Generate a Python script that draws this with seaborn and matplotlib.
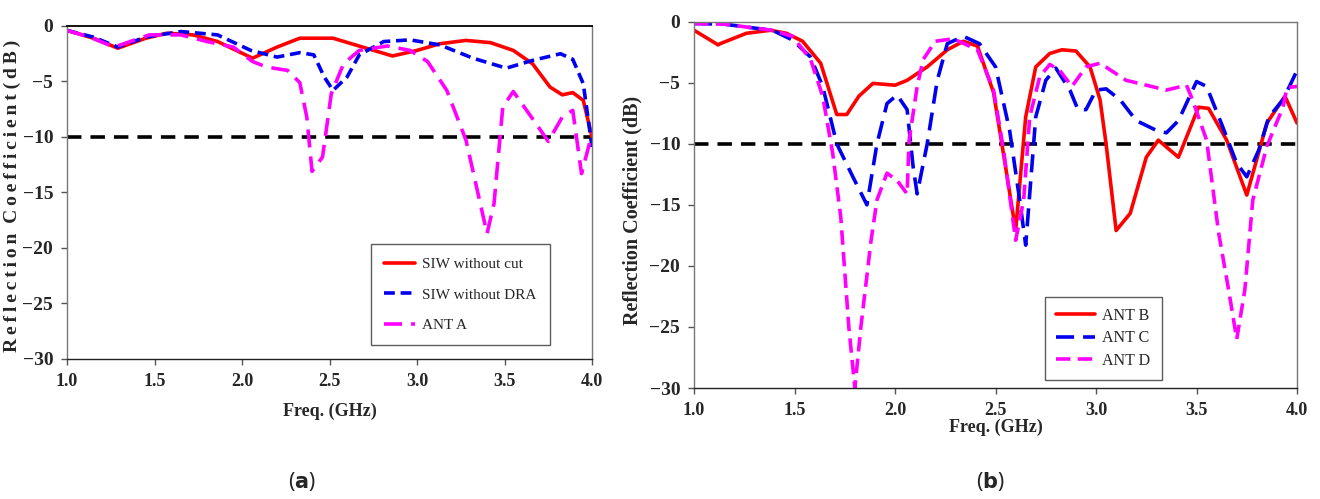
import numpy as np
import pandas as pd
import matplotlib
matplotlib.use("Agg")
import matplotlib.pyplot as plt
import seaborn as sns

# ---- panel (a) data ----
a_red_f = [1.0, 1.15, 1.29, 1.45, 1.57, 1.72, 1.86, 2.06, 2.2, 2.33, 2.52, 2.71, 2.86, 3.0, 3.13,
           3.28, 3.42, 3.55, 3.66, 3.76, 3.83, 3.89, 3.95, 4.0]
a_red_db = [-0.4, -1.1, -2.0, -1.1, -0.65, -0.8, -1.4, -2.9, -1.9, -1.1, -1.1, -2.0, -2.7, -2.2, -1.6,
            -1.3, -1.5, -2.2, -3.4, -5.5, -6.2, -6.0, -6.7, -10.0]

a_blue_f = [1.0, 1.15, 1.29, 1.45, 1.65, 1.86, 2.05, 2.2, 2.33, 2.41, 2.47, 2.52, 2.6, 2.67, 2.81,
            2.96, 3.13, 3.32, 3.51, 3.66, 3.82, 3.89, 3.95, 4.0]
a_blue_db = [-0.4, -1.0, -1.9, -1.0, -0.5, -0.8, -2.2, -2.8, -2.4, -2.6, -4.6, -5.8, -4.6, -2.6, -1.4,
             -1.25, -1.7, -2.9, -3.8, -3.1, -2.5, -3.0, -5.2, -10.9]

a_mag_f = [1.0, 1.13, 1.27, 1.47, 1.65, 1.8, 1.95, 2.06, 2.14, 2.26, 2.33, 2.37, 2.4, 2.46, 2.51,
           2.58, 2.67, 2.83, 2.96, 3.06, 3.17, 3.28, 3.4, 3.44, 3.49, 3.55, 3.68, 3.75, 3.83, 3.89,
           3.94, 4.0]
a_mag_db = [-0.4, -1.0, -1.9, -0.8, -0.8, -1.4, -1.9, -3.2, -3.7, -4.0, -5.1, -8.2, -13.1, -11.8, -6.1,
            -3.4, -2.2, -1.8, -2.2, -3.2, -5.8, -10.3, -18.7, -16.0, -7.3, -5.9, -8.8, -10.4, -8.2, -7.6,
            -13.3, -9.7]

a_labels = ["SIW without cut", "SIW without DRA", "ANT A"]

# ---- panel (b) data ----
b_red_f = [1.0, 1.12, 1.13, 1.26, 1.38, 1.46, 1.54, 1.63, 1.71, 1.76, 1.82, 1.89, 2.0, 2.06, 2.16,
           2.26, 2.34, 2.41, 2.49, 2.55, 2.6, 2.65, 2.7, 2.77, 2.83, 2.9, 2.97, 3.02, 3.05, 3.1,
           3.17, 3.25, 3.31, 3.41, 3.51, 3.56, 3.65, 3.75, 3.85, 3.94, 4.0]
b_red_db = [-0.7, -1.9, -1.8, -0.95, -0.7, -0.95, -1.6, -3.4, -7.6, -7.6, -6.1, -5.05, -5.2, -4.8, -3.7,
            -2.3, -1.6, -2.0, -5.8, -11.9, -17.1, -7.8, -3.7, -2.6, -2.3, -2.4, -3.7, -6.4, -10.0, -17.1,
            -15.7, -11.1, -9.7, -11.1, -7.0, -7.1, -9.7, -14.2, -8.3, -6.1, -8.3]

b_blue_f = [1.0, 1.15, 1.29, 1.39, 1.49, 1.58, 1.64, 1.71, 1.79, 1.86, 1.91, 1.96, 2.01, 2.06, 2.09,
            2.11, 2.16, 2.21, 2.26, 2.34, 2.42, 2.5, 2.57, 2.62, 2.65, 2.7, 2.75, 2.8, 2.87, 2.91,
            2.95, 3.0, 3.05, 3.12, 3.2, 3.3, 3.35, 3.41, 3.5, 3.55, 3.63, 3.7, 3.75, 3.81, 3.86,
            3.93, 4.0]
b_blue_db = [-0.15, -0.2, -0.5, -0.7, -1.5, -2.9, -5.3, -10.0, -12.7, -15.0, -10.0, -6.7, -6.0, -7.2, -11.9,
             -14.1, -10.0, -4.8, -1.8, -1.2, -1.8, -3.7, -8.9, -14.6, -18.3, -7.8, -4.8, -3.8, -5.6, -7.2,
             -7.2, -5.6, -5.5, -6.4, -8.1, -8.9, -9.1, -8.1, -4.9, -5.3, -8.6, -11.6, -12.7, -10.5, -7.8,
             -6.4, -4.0]

b_mag_f = [1.0, 1.15, 1.29, 1.39, 1.49, 1.58, 1.64, 1.69, 1.73, 1.77, 1.8, 1.83, 1.88, 1.91, 1.96,
           2.01, 2.06, 2.07, 2.11, 2.14, 2.2, 2.29, 2.41, 2.49, 2.54, 2.6, 2.64, 2.67, 2.72, 2.77,
           2.82, 2.88, 2.95, 3.02, 3.15, 3.35, 3.45, 3.48, 3.55, 3.61, 3.66, 3.7, 3.74, 3.78, 3.85,
           3.93, 3.95, 4.0]
b_mag_db = [-0.15, -0.2, -0.5, -0.7, -1.2, -3.1, -6.1, -10.8, -16.0, -25.0, -30.0, -25.0, -18.0, -14.6, -12.4,
            -13.0, -14.1, -9.7, -5.3, -3.1, -1.6, -1.4, -2.3, -5.6, -10.5, -17.9, -14.6, -7.8, -4.5, -3.5,
            -4.0, -5.3, -3.7, -3.4, -4.8, -5.6, -5.2, -6.4, -9.7, -17.3, -22.0, -26.0, -22.0, -14.6, -10.2,
            -7.0, -5.4, -5.3]

b_labels = ["ANT B", "ANT C", "ANT D"]

freq_ticks = [1.0, 1.5, 2.0, 2.5, 3.0, 3.5, 4.0]
db_ticks = [0, -5, -10, -15, -20, -25, -30]

sns.set_style("white")
plt.rcParams['font.family'] = ['Liberation Serif', 'DejaVu Serif']

RED = "#ff0000"
BLUE = "#0000ee"
MAG = "#ff00ff"

fig = plt.figure(figsize=(13.2, 4.99), dpi=100)
ax_a = fig.add_axes([0.0508, 0.2806, 0.3977, 0.6673])
ax_b = fig.add_axes([0.5258, 0.2224, 0.4568, 0.7341])


def draw_panel(ax, series, labels, dash_sets, legend_anchor, leg_kw):
    colors = [RED, BLUE, MAG]
    for (f, db), lab, col, dsh in zip(series, labels, colors, dash_sets):
        df = pd.DataFrame({"freq": f, "db": db})
        sns.lineplot(data=df, x="freq", y="db", ax=ax, color=col, lw=2.6,
                     label=lab, sort=False, estimator=None)
        if dsh is not None:
            ax.lines[-1].set_dashes(dsh)
    # -10 dB reference line
    ax.axhline(-10, color="black", lw=2.6, dashes=(4, 2.5), zorder=1)
    ax.set_xlim(1.0, 4.0)
    ax.set_ylim(-30, 0)
    ax.set_xticks(freq_ticks)
    ax.set_xticklabels([f"{t:.1f}" for t in freq_ticks], fontweight="bold", fontsize=13)
    ax.set_yticks(db_ticks)
    ax.set_yticklabels([f"{t}".replace("-", "\u2212") for t in db_ticks], fontsize=14,
                       fontweight="bold")
    ax.tick_params(axis="both", direction="out", length=4, width=1, color="#555555",
                   bottom=True, left=True, pad=6)
    for s in ax.spines.values():
        s.set_color("#777777")
        s.set_linewidth(1.0)
    ax.spines["bottom"].set_color("#222222")
    leg = ax.legend(loc="lower left", bbox_to_anchor=legend_anchor, frameon=True,
                    fancybox=False, edgecolor="#333333", handletextpad=0.5,
                    borderaxespad=0, **leg_kw)
    leg.get_frame().set_linewidth(1.0)
    ax.set_xlabel("")
    ax.set_ylabel("")


draw_panel(ax_a,
           [(a_red_f, a_red_db), (a_blue_f, a_blue_db), (a_mag_f, a_mag_db)],
           a_labels, [None, (3, 1.6), (5, 2.5)], (0.579, 0.042),
           dict(fontsize=11, handlelength=2.0, borderpad=0.85, labelspacing=1.1))
ax_a.spines["top"].set_color("#111111")
ax_a.spines["top"].set_linewidth(1.4)
ax_a.set_xlabel("Freq. (GHz)", fontweight="bold", fontsize=13, labelpad=9)
# letter-spaced label, as in the original figure
spaced = "\u2009".join("Reflection") + "  " + "\u2009".join("Coefficient") + " " + "\u2009".join("(dB)")
ax_a.set_ylabel(spaced, fontweight="bold", fontsize=14)
ax_a.yaxis.set_label_coords(-0.088, 0.49)

draw_panel(ax_b,
           [(b_red_f, b_red_db), (b_blue_f, b_blue_db), (b_mag_f, b_mag_db)],
           b_labels, [None, (5, 2.5), (4, 2)], (0.582, 0.022),
           dict(fontsize=11.5, handlelength=2.4, borderpad=0.7, labelspacing=0.4))
ax_b.set_xlabel("Freq. (GHz)", fontweight="bold", fontsize=13, labelpad=0)
ax_b.set_ylabel("Reflection Coefficient (dB)", fontweight="bold", fontsize=14.5)
ax_b.yaxis.set_label_coords(-0.086, 0.486)

fig.text(0.2288, 0.035, r"($\mathbf{a}$)", ha="center", va="center", fontsize=15,
         family=["Noto Sans", "DejaVu Sans"])
fig.text(0.75, 0.035, r"($\mathbf{b}$)", ha="center", va="center", fontsize=15,
         family=["Noto Sans", "DejaVu Sans"])

fig.savefig("out.png", dpi=100)
